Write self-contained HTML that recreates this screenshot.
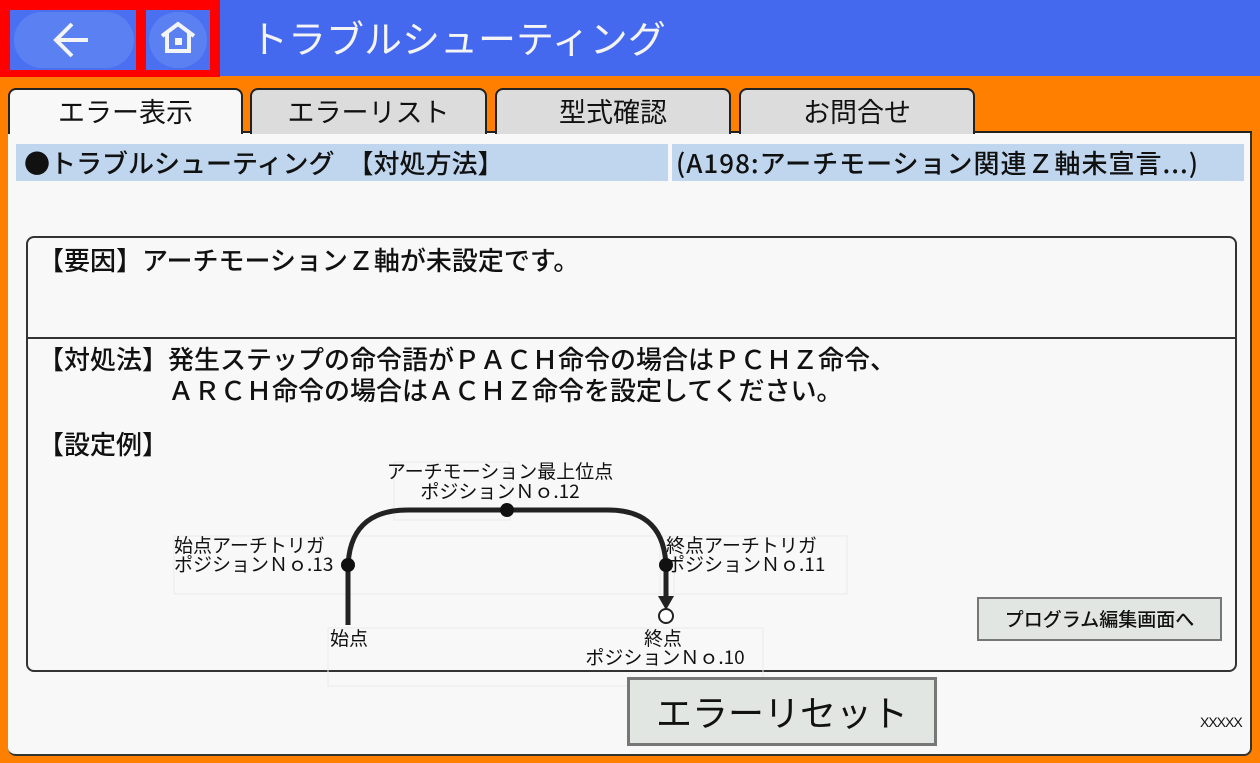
<!DOCTYPE html>
<html><head><meta charset="utf-8"><style>
*{margin:0;padding:0;box-sizing:border-box}
body{width:1260px;height:763px;background:#ff8000;position:relative;overflow:hidden;font-family:"Liberation Sans","Noto Sans CJK JP",sans-serif;color:#111}
.a{position:absolute}
.top{left:0;top:0;width:1260px;height:76px;background:#4468ee}
.tab{top:88px;height:46px;border:2px solid #222;border-bottom:none;border-radius:8px 8px 0 0;background:#dcdcdc;font-size:27px;text-align:center;line-height:42px;font-family:"Noto Sans CJK JP",sans-serif}
.t{white-space:nowrap}
.j{font-family:"Noto Sans CJK JP",sans-serif;font-weight:500}
</style></head><body>
<div class="a top"></div>
<div class="a" style="left:0;top:0;width:220px;height:77px;background:#f00"></div>
<div class="a" style="left:10px;top:10px;width:126px;height:60px;background:#4a6ff0"></div>
<div class="a" style="left:14px;top:12px;width:120px;height:56px;border-radius:28px;background:#5b80f2"></div>
<svg class="a" style="left:50px;top:20px" width="44" height="40"><path d="M22 4 L6 20 L22 36 M6 20 H38" stroke="#f4f4f4" stroke-width="4" fill="none"/></svg>
<div class="a" style="left:146px;top:10px;width:64px;height:60px;background:#4a6ff0"></div>
<div class="a" style="left:149px;top:12px;width:58px;height:56px;border-radius:28px;background:#5b80f2"></div>
<svg class="a" style="left:156px;top:18px" width="44" height="40"><path d="M6 18 L22 6 L38 18 M11 15 V33 H33 V15" stroke="#f4f4f4" stroke-width="4" fill="none"/><rect x="19" y="20" width="7" height="7" fill="#f4f4f4"/></svg>
<div class="a t j" style="left:250px;top:12px;font-size:38px;color:#f4f4f4;line-height:50px;font-weight:400">トラブルシューティング</div>

<div class="a" style="left:8px;top:132px;width:1244px;height:624px;background:#f8f8f8;border-radius:0 0 8px 8px;border-right:2px solid #333;border-bottom:2px solid #333"></div>
<div class="a" style="left:242px;top:131px;width:1010px;height:2px;background:#222"></div>
<div class="a tab" style="left:8px;width:235px;background:#f8f8f8;height:46px">エラー表示</div>
<div class="a tab" style="left:250px;width:237px">エラーリスト</div>
<div class="a tab" style="left:495px;width:236px">型式確認</div>
<div class="a tab" style="left:739px;width:236px">お問合せ</div>

<div class="a" style="left:16px;top:144px;width:1228px;height:37px;background:#bfd6ee"></div>
<div class="a t j" style="left:24px;top:144px;font-size:26px;line-height:37px">●トラブルシューティング　【対処方法】</div>
<div class="a" style="left:668px;top:144px;width:4px;height:37px;background:#f8f8f8"></div>
<div class="a t j" style="left:676px;top:144px;font-size:26px;line-height:37px;letter-spacing:1px">(A198:アーチモーション関連Ｚ軸未宣言...)</div>

<div class="a" style="left:26px;top:236px;width:1211px;height:436px;border:2px solid #333;border-radius:8px"></div>
<div class="a" style="left:27px;top:337px;width:1209px;height:2px;background:#333"></div>
<div class="a t j" style="left:38px;top:242px;font-size:26px;line-height:36px">【要因】アーチモーションＺ軸が未設定です。</div>
<div class="a t j" style="left:38px;top:343px;font-size:26px;line-height:31px">【対処法】発生ステップの命令語がＰＡＣＨ命令の場合はＰＣＨＺ命令、<br>　　　　　ＡＲＣＨ命令の場合はＡＣＨＺ命令を設定してください。</div>
<div class="a t j" style="left:38px;top:426px;font-size:26px;line-height:36px">【設定例】</div>

<svg class="a" style="left:160px;top:450px" width="700" height="250">
<g fill="none" stroke="#eaeaea" stroke-width="1"><rect x="234" y="12" width="116" height="58"/><rect x="14" y="86" width="500" height="58"/><rect x="500" y="86" width="187" height="58"/><rect x="168" y="178" width="435" height="58"/></g>
<path d="M188 175 V120 Q188 60 248 60 H448 Q506 60 506 120 V148" stroke="#222" stroke-width="5" fill="none"/>
<circle cx="347" cy="60" r="7" fill="#111"/>
<circle cx="188" cy="115" r="7" fill="#111"/>
<circle cx="506" cy="115" r="7" fill="#111"/>
<polygon points="498,146 514,146 506,160" fill="#222"/>
<circle cx="506" cy="166" r="7" fill="#fff" stroke="#222" stroke-width="2"/>
<g font-size="19" fill="#111" font-family="Noto Sans CJK JP,sans-serif">
<text x="340" y="28" text-anchor="middle">アーチモーション最上位点</text>
<text x="340" y="48" text-anchor="middle">ポジションＮｏ.12</text>
<text x="14" y="102">始点アーチトリガ</text>
<text x="14" y="121">ポジションＮｏ.13</text>
<text x="506" y="102">終点アーチトリガ</text>
<text x="506" y="121">ポジションＮｏ.11</text>
<text x="170" y="195">始点</text>
<text x="503" y="195" text-anchor="middle">終点</text>
<text x="505" y="214" text-anchor="middle">ポジションＮｏ.10</text>
</g></svg>

<div class="a t j" style="left:977px;top:597px;width:245px;height:44px;background:#e2e6e2;border:2px solid #777;font-size:19px;text-align:center;line-height:40px">プログラム編集画面へ</div>
<div class="a t j" style="left:627px;top:677px;width:310px;height:69px;background:#e2e6e2;border:3px solid #777;font-size:36px;font-weight:400;text-align:center;line-height:63px">エラーリセット</div>
<div class="a t" style="left:1200px;top:714px;font-size:14px;letter-spacing:-1px">XXXXX</div>
</body></html>
